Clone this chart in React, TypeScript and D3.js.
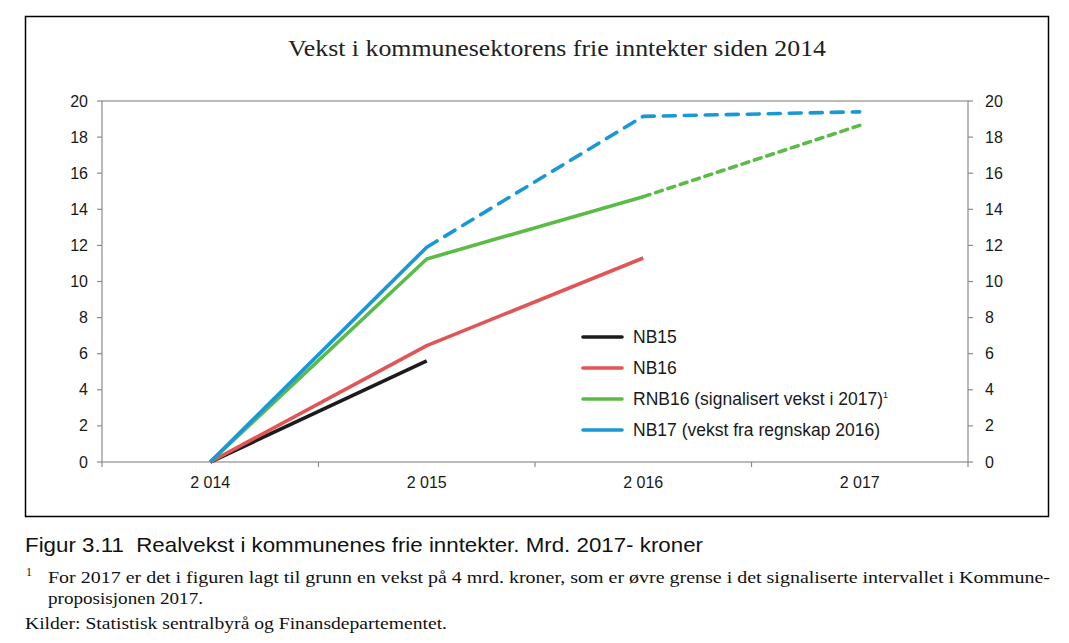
import React from "react";
import * as d3 from "d3";

const categories = ["2014", "2015", "2016", "2017"];
const xTickLabels = ["2 014", "2 015", "2 016", "2 017"];
const yTicks = [0, 2, 4, 6, 8, 10, 12, 14, 16, 18, 20];

const nb15 = [0, 5.6];
const nb16 = [0, 6.45, 11.3];
const rnb16 = [0, 11.25, 14.7, 18.65];
const nb17 = [0, 11.9, 19.15, 19.4];

const seriesNames = ["NB15", "NB16", "RNB16 (signalisert vekst i 2017)", "NB17 (vekst fra regnskap 2016)"];
const seriesValues = [nb15, nb16, rnb16, nb17];
const seriesColors = ["#1c1c1c", "#e05555", "#5bbb47", "#1a98d6"];
const solidUntil = [1, 2, 2, 1]; // index where the dashed part starts
const dashArrays = ["", "", "7 6", "12 9"];

const W = 1069;
const H = 643;
const left = 102;
const right = 968;
const top = 101;
const bottom = 462;

export default function App() {
  const x = d3.scaleBand<string>().domain(categories).range([left, right]);
  const cx = (c: string) => (x(c) as number) + x.bandwidth() / 2;
  const y = d3.scaleLinear().domain([0, 20]).range([bottom, top]);
  const line = d3
    .line<number>()
    .x((_, i) => cx(categories[i]))
    .y((d) => y(d));

  const boundaries = categories.map((c) => x(c) as number).concat([right]);
  const axisColor = "#8c8c8c";
  const sans = "'Liberation Sans', Arial, Helvetica, sans-serif";
  const serif = "'Liberation Serif', 'Times New Roman', serif";

  return (
    <svg
      width={W}
      height={H}
      style={{ position: "absolute", left: 0, top: 0, display: "block", background: "#fff" }}
    >
      <rect x={0} y={0} width={W} height={H} fill="#fff" />
      <rect x={25.5} y={16.5} width={1023} height={500} fill="none" stroke="#000" strokeWidth={1.5} />
      <text x={288} y={56} fontFamily={serif} fontSize={24} fill="#222" textLength={538} lengthAdjust="spacingAndGlyphs">
        Vekst i kommunesektorens frie inntekter siden 2014
      </text>

      {/* plot box */}
      <rect x={left} y={top} width={right - left} height={bottom - top} fill="none" stroke={axisColor} strokeWidth={1.2} />
      {/* y ticks */}
      {yTicks.map((t) => (
        <g key={t}>
          <line x1={left - 5} x2={left} y1={y(t)} y2={y(t)} stroke={axisColor} strokeWidth={1.2} />
          <line x1={right} x2={right + 5} y1={y(t)} y2={y(t)} stroke={axisColor} strokeWidth={1.2} />
          <text x={88} y={y(t) + 5.5} textAnchor="end" fontFamily={sans} fontSize={16} fill="#1a1a1a">
            {t}
          </text>
          <text x={985} y={y(t) + 5.5} textAnchor="start" fontFamily={sans} fontSize={16} fill="#1a1a1a">
            {t}
          </text>
        </g>
      ))}
      {/* x ticks */}
      {boundaries.map((b, i) => (
        <line key={i} x1={b} x2={b} y1={bottom} y2={bottom + 5} stroke={axisColor} strokeWidth={1.2} />
      ))}
      {categories.map((c, i) => (
        <text key={c} x={cx(c)} y={488} textAnchor="middle" fontFamily={sans} fontSize={16} fill="#1a1a1a">
          {xTickLabels[i]}
        </text>
      ))}

      {/* series */}
      {seriesValues.map((vals, s) => {
        const k = solidUntil[s];
        const solid = vals.slice(0, k + 1);
        const dashedPart = vals.length > k + 1 ? vals.map((v, i) => (i >= k ? v : null)) : null;
        const dashedLine = d3
          .line<number | null>()
          .defined((d) => d !== null)
          .x((_, i) => cx(categories[i]))
          .y((d) => y(d as number));
        return (
          <g key={s}>
            <path d={line(solid) || ""} fill="none" stroke={seriesColors[s]} strokeWidth={3.6} strokeLinejoin="round" />
            {dashedPart && (
              <path
                d={dashedLine(dashedPart) || ""}
                fill="none"
                stroke={seriesColors[s]}
                strokeWidth={3.6}
                strokeDasharray={dashArrays[s]}
                strokeLinecap="round"
                strokeLinejoin="round"
              />
            )}
          </g>
        );
      })}

      {/* legend */}
      {seriesNames.map((n, i) => {
        const ly = 337 + i * 31;
        return (
          <g key={n}>
            <line x1={583} x2={622} y1={ly} y2={ly} stroke={seriesColors[i]} strokeWidth={3.6} strokeLinecap="round" />
            <text x={633} y={ly + 6} fontFamily={sans} fontSize={17.5} fill="#1a1a1a">
              {n}
              {i === 2 && (
                <tspan fontSize={9} dy={-7}>
                  1
                </tspan>
              )}
            </text>
          </g>
        );
      })}

      {/* caption */}
      <text x={25} y={552} fontFamily={sans} fontSize={21} fill="#111" textLength={678} lengthAdjust="spacingAndGlyphs">
        {"Figur 3.11\u00a0 Realvekst i kommunenes frie inntekter. Mrd. 2017- kroner"}
      </text>
      <text x={26} y={576} fontFamily={serif} fontSize={12} fill="#111">
        1
      </text>
      <text x={48} y={583} fontFamily={serif} fontSize={16} fill="#111" textLength={1002} lengthAdjust="spacingAndGlyphs">
        For 2017 er det i figuren lagt til grunn en vekst på 4 mrd. kroner, som er øvre grense i det signaliserte intervallet i Kommune-
      </text>
      <text x={48} y={604} fontFamily={serif} fontSize={16} fill="#111" textLength={155} lengthAdjust="spacingAndGlyphs">
        proposisjonen 2017.
      </text>
      <text x={25} y={629} fontFamily={serif} fontSize={16} fill="#111" textLength={422} lengthAdjust="spacingAndGlyphs">
        Kilder: Statistisk sentralbyrå og Finansdepartementet.
      </text>
    </svg>
  );
}
